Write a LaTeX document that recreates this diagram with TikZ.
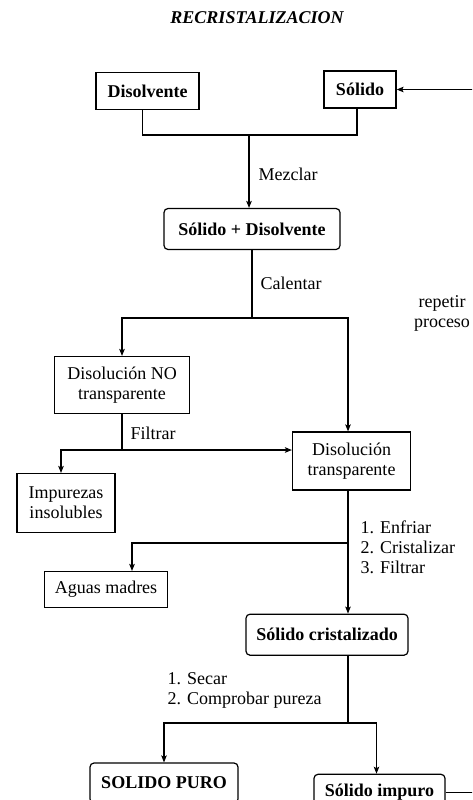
\documentclass[tikz,border=0pt]{standalone}
\usepackage{fontspec}
\setmainfont{Liberation Serif}
\usetikzlibrary{arrows.meta}
\tikzset{
  caja/.style={draw, line width=1.2pt, align=center, inner sep=2pt},
  cajab/.style={caja, font=\fontsize{18}{20}\selectfont\bfseries},
  cajar/.style={cajab, rounded corners=4pt},
  etiqueta/.style={anchor=west, inner sep=0pt, align=left},
  flecha/.style={-{Stealth[length=7pt,width=5.5pt,inset=1.5pt]}},
}
\begin{document}
\begin{tikzpicture}[x=1pt,y=-1pt,line width=1.1pt,font=\fontsize{18}{20}\selectfont]
\useasboundingbox (0,0) rectangle (472,800);
\clip (0,0) rectangle (472,800);
% Title
\node (titulo) at (257,18) {\bfseries\itshape RECRISTALIZACION};
% Boxes
\node[cajab, minimum width=103pt, minimum height=37pt] (disolvente) at (147.5,91) {Disolvente};
\node[cajab, minimum width=72pt, minimum height=37pt] (solido) at (360,89.5) {Sólido};
\node[cajar, minimum width=176pt, minimum height=41pt] (sd) at (252,229) {Sólido + Disolvente};
\node[caja, minimum width=135pt, minimum height=57pt] (notransp) at (122,385) {Disolución NO\\transparente};
\node[caja, minimum width=118pt, minimum height=58pt] (transp) at (351.5,461) {Disolución\\transparente};
\node[caja, minimum width=98pt, minimum height=59pt] (impurezas) at (66,503) {Impurezas\\insolubles};
\node[caja, minimum width=123pt, minimum height=36pt] (aguas) at (106,589.5) {Aguas madres};
\node[cajar, minimum width=162pt, minimum height=41pt] (cristal) at (327,634.7) {Sólido cristalizado};
\node[cajar, minimum width=148pt, minimum height=40pt] (puro) at (164,783) {SOLIDO PURO};
\node[cajar, minimum width=131pt, minimum height=36pt] (impuro) at (379.5,792.3) {Sólido impuro};
% Junctions
\coordinate (mezcla) at (249,135);
\coordinate (calentar) at (252,318);
\coordinate (filtro) at (122,450);
\coordinate (enfriar) at (348,543);
\coordinate (secar) at (348,723);
\coordinate (lazo) at (500,0);
% Draw connectors
\draw ([xshift=-5pt]disolvente.south) |- (mezcla) -| ([xshift=-3pt]solido.south);
\draw[flecha] (mezcla) -- (mezcla |- sd.north);
\draw (sd.south) -- (calentar);
\draw[flecha] (calentar) -| (notransp.north);
\draw[flecha] (calentar) -| (enfriar |- transp.north);
\draw (notransp.south) -- (filtro);
\draw[flecha] (filtro) -| ([xshift=-5pt]impurezas.north);
\draw[flecha] (filtro) -- (filtro -| transp.west);
\draw[flecha] (enfriar |- transp.south) -- (enfriar |- cristal.north);
\draw[flecha] (enfriar) -| ([xshift=26pt]aguas.north);
\draw (enfriar |- cristal.south) -- (secar);
\draw[flecha] (secar) -| (puro.north);
\draw[flecha] (secar) -| ([xshift=-3pt]impuro.north);
\draw[flecha] (impuro.east) -- (impuro.east -| lazo) -- (solido.east -| lazo) -- (solido.east);
% Labels
\node[etiqueta] (mezclar) at (258,174) {Mezclar};
\node[etiqueta] (calentarT) at (260,283) {Calentar};
\node[align=center, inner sep=0pt] (repetir) at (442,313) {repetir\\proceso};
\node[etiqueta] (filtrar) at (130,433) {Filtrar};
\node[etiqueta] (pasos) at (360,547.5) {1. Enfriar\\2. Cristalizar\\3. Filtrar};
\node[etiqueta] (secado) at (167,690.5) {1. Secar\\2. Comprobar pureza};
\end{tikzpicture}
\end{document}
